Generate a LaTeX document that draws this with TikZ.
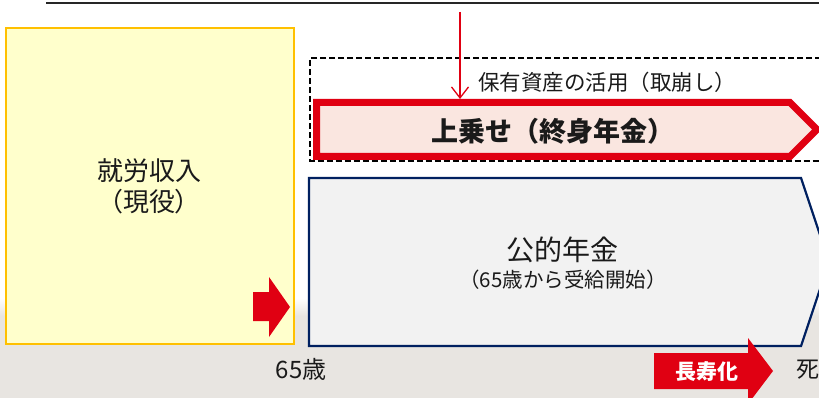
\documentclass[tikz,border=0pt]{standalone}
\usepackage{fontspec}
\setmainfont{Noto Sans CJK JP}
\newfontfamily\jpp[RawFeature=+palt]{Noto Sans CJK JP}
\usetikzlibrary{arrows.meta}
\definecolor{bandgray}{HTML}{E8E5E1}
\definecolor{ylwfill}{HTML}{FFFFCC}
\definecolor{ylwline}{HTML}{FFC000}
\definecolor{redc}{HTML}{E00012}
\definecolor{pinkfill}{HTML}{FAE6E0}
\definecolor{navy}{HTML}{002060}
\definecolor{pgray}{HTML}{F2F2F2}
\definecolor{txt}{HTML}{1A1A1A}
\tikzset{
  lbl/.style={inner sep=0pt, text=txt, align=center},
  blockarrow/.style={fill=redc, draw=none},
}
\begin{document}
\begin{tikzpicture}[x=1pt,y=-1pt]
\useasboundingbox (0,0) rectangle (819,398);
\fill[white] (0,0) rectangle (819,398);
% background band
\shade[top color=white, bottom color=bandgray] (0,298) rectangle (819,316);
\fill[bandgray] (0,316) rectangle (819,398);
% top underline
\draw[line width=1.6pt, black!85] (46,3) -- (819,3);
% yellow box
\draw[line width=2.4pt, draw=ylwline, fill=ylwfill] (6,28) rectangle (294,344);
\node[lbl, font=\fontsize{26}{31}\selectfont\jpp] (work) at (149,186) {就労収入\\（現役）};
% red arrow inside yellow
\fill[blockarrow] (253,292) -- (269,292) -- (269,277) -- (290,307) -- (269,337) -- (269,321) -- (253,321) -- cycle;
% dashed box
\draw[line width=2pt, dash pattern=on 6pt off 3pt] (830,58.5) -- (310,58.5) -- (310,161) -- (830,161);
\node[lbl, font=\fontsize{21.5}{24}\selectfont] (asset) at (607,82) {保有資産の活用（取崩し）};
% red pentagon
\draw[line width=7pt, draw=redc, fill=pinkfill, line join=miter] (316.5,102.5) -- (790,102.5) -- (817,129.5) -- (790,156.5) -- (316.5,156.5) -- cycle;
\coordinate (topin) at (460,99);
\node[lbl, font=\fontsize{27}{30}\selectfont\bfseries] (extra) at (553,131) {上乗せ（終身年金）};
\coordinate (src) at (460,12);
\draw[redc, line width=1.3pt, -{Straight Barb[length=11pt,width=17pt,line width=1.3pt]}] (src) -- (topin);
% public pension pentagon
\draw[line width=2.2pt, draw=navy, fill=pgray, line join=miter] (309,178) -- (801,178) -- (829,262) -- (801,346) -- (309,346) -- cycle;
\node[lbl, font=\fontsize{28}{30}\selectfont\jpp] (pub) at (562,250) {公的年金};
\node[lbl, font=\fontsize{20.5}{24}\selectfont] (pubsub) at (563,280) {（65歳から受給開始）};
% labels on axis
\node[lbl, font=\fontsize{24}{26}\selectfont\jpp] (age) at (301,369) {65歳};
\fill[blockarrow] (654,353) -- (748,353) -- (748,338) -- (773,371) -- (748,404) -- (748,389) -- (654,389) -- cycle;
\node[lbl, text=white, font=\fontsize{21}{24}\selectfont\bfseries\jpp] (long) at (707,372) {長寿化};
\node[lbl, anchor=west, font=\fontsize{23}{24}\selectfont\jpp] (death) at (796,370) {死};
\end{tikzpicture}
\end{document}
